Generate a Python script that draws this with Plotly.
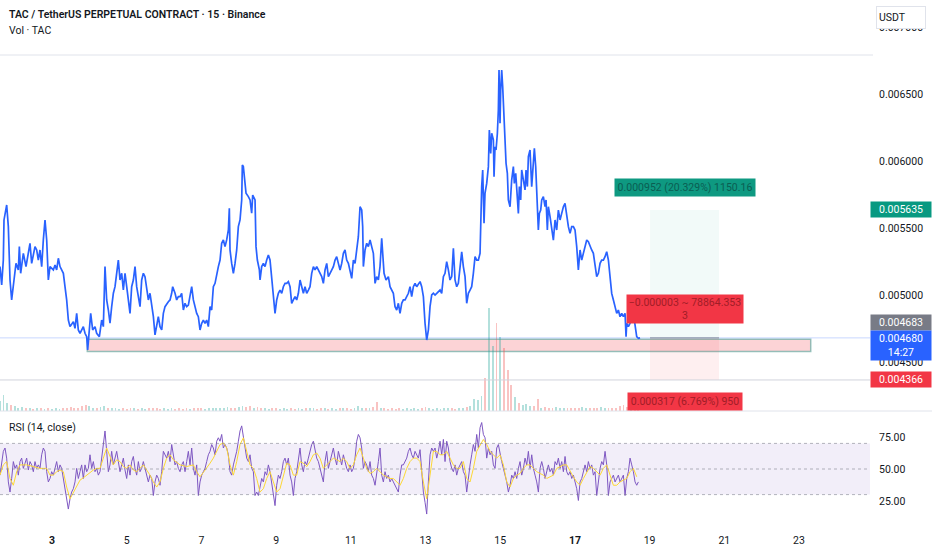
import numpy as np
import plotly.graph_objects as go

# ---- price line (close, day of month) ----
price_day = [
    1.608, 1.653, 1.697, 1.715, 1.787, 1.831, 1.876, 1.920, 1.983, 2.036, 2.099, 2.126, 2.161, 2.233,
    2.304, 2.367, 2.411, 2.456, 2.501, 2.545, 2.590, 2.634, 2.679, 2.724, 2.768, 2.813, 2.858, 2.902,
    2.947, 3.036, 3.081, 3.125, 3.170, 3.215, 3.259, 3.304, 3.348, 3.393, 3.438, 3.482, 3.572, 3.616,
    3.661, 3.705, 3.750, 3.839, 3.884, 3.929, 3.955, 4.000, 4.036, 4.089, 4.152, 4.196, 4.268, 4.330,
    4.375, 4.419, 4.464, 4.509, 4.553, 4.598, 4.643, 4.687, 4.732, 4.776, 4.821, 4.866, 4.910, 4.955,
    5.000, 5.044, 5.089, 5.133, 5.178, 5.223, 5.267, 5.312, 5.357, 5.401, 5.446, 5.490, 5.535, 5.580,
    5.624, 5.669, 5.714, 5.758, 5.803, 5.847, 5.892, 5.937, 5.981, 6.026, 6.115, 6.160, 6.204, 6.231,
    6.294, 6.338, 6.383, 6.428, 6.472, 6.517, 6.561, 6.606, 6.651, 6.695, 6.740, 6.785, 6.829, 6.874,
    6.918, 6.963, 7.008, 7.052, 7.097, 7.142, 7.186, 7.231, 7.275, 7.320, 7.365, 7.409, 7.454, 7.499,
    7.543, 7.588, 7.632, 7.677, 7.722, 7.748, 7.766, 7.811, 7.856, 7.900, 7.945, 7.989, 8.034, 8.079,
    8.096, 8.123, 8.168, 8.195, 8.257, 8.302, 8.346, 8.373, 8.436, 8.462, 8.498, 8.552, 8.570, 8.614,
    8.659, 8.703, 8.748, 8.793, 8.837, 8.882, 8.927, 8.971, 9.016, 9.060, 9.105, 9.150, 9.194, 9.239,
    9.284, 9.328, 9.373, 9.417, 9.462, 9.507, 9.551, 9.596, 9.641, 9.685, 9.730, 9.774, 9.819, 9.864,
    9.908, 9.953, 9.998, 10.042, 10.087, 10.131, 10.176, 10.221, 10.265, 10.310, 10.355, 10.399,
    10.444, 10.488, 10.533, 10.578, 10.622, 10.667, 10.712, 10.756, 10.801, 10.845, 10.890, 10.935,
    10.979, 11.024, 11.069, 11.113, 11.158, 11.202, 11.247, 11.292, 11.318, 11.336, 11.381, 11.426,
    11.470, 11.515, 11.559, 11.604, 11.649, 11.693, 11.738, 11.782, 11.827, 11.854, 11.890, 11.943,
    12.006, 12.050, 12.095, 12.139, 12.184, 12.229, 12.273, 12.318, 12.363, 12.407, 12.452, 12.497,
    12.541, 12.586, 12.630, 12.675, 12.720, 12.764, 12.809, 12.854, 12.898, 12.943, 12.987, 13.032,
    13.077, 13.121, 13.166, 13.211, 13.255, 13.300, 13.344, 13.389,
    13.433, 13.478, 13.522, 13.567, 13.612, 13.656, 13.701, 13.746, 13.790, 13.835, 13.879, 13.924,
    13.969, 14.013, 14.058, 14.103, 14.147, 14.192, 14.236, 14.281, 14.326, 14.370, 14.415, 14.460,
    14.477, 14.504, 14.531, 14.567, 14.593, 14.638, 14.683, 14.709, 14.745, 14.772, 14.817, 14.834,
    14.861, 14.888, 14.924, 14.950, 14.968, 14.995, 15.013, 15.040, 15.066, 15.102, 15.129, 15.156,
    15.191, 15.218, 15.263, 15.307, 15.352, 15.379, 15.415, 15.441, 15.486, 15.513, 15.548, 15.575,
    15.620, 15.664, 15.691, 15.727, 15.754, 15.798, 15.843, 15.888, 15.914, 15.950, 15.977, 15.995,
    16.021, 16.048, 16.084, 16.111, 16.155, 16.200, 16.227, 16.262, 16.289, 16.334, 16.378, 16.423,
    16.468, 16.512, 16.557, 16.602, 16.646, 16.691, 16.735, 16.780, 16.825, 16.869, 16.914, 16.959,
    17.003, 17.048, 17.092, 17.137, 17.182, 17.226, 17.271, 17.316, 17.360, 17.405, 17.449, 17.494,
    17.539, 17.583, 17.628, 17.673, 17.717, 17.762, 17.806, 17.851, 17.896, 17.940, 17.985, 18.030,
    18.074, 18.119, 18.163, 18.208, 18.253, 18.297, 18.342, 18.369, 18.387, 18.431, 18.476, 18.520,
    18.565, 18.610, 18.654, 18.699, 18.744,
]
price = [
    0.005212, 0.005075, 0.005261, 0.005560, 0.005672, 0.005510, 0.005112, 0.004963, 0.005112, 0.005236,
    0.005187, 0.005361, 0.005162, 0.005311, 0.005212, 0.005336, 0.005386, 0.005236, 0.005311, 0.005361,
    0.005336, 0.005261, 0.005336, 0.005212, 0.005411, 0.005560, 0.005411, 0.005112, 0.005212, 0.005187,
    0.005224, 0.005187, 0.005274, 0.005212, 0.005187, 0.005162, 0.005062, 0.004963, 0.004813, 0.004764,
    0.004801, 0.004751, 0.004863, 0.004739, 0.004714, 0.004764, 0.004714, 0.004689, 0.004590, 0.004726,
    0.004863, 0.004739, 0.004764, 0.004714, 0.004689, 0.004813, 0.004764, 0.005212, 0.004963, 0.004888,
    0.004789, 0.004913, 0.005013, 0.005062, 0.005162, 0.005261, 0.005112, 0.005162, 0.005037, 0.005162,
    0.005062, 0.004963, 0.004863, 0.005062, 0.005112, 0.005212, 0.005062, 0.004988, 0.004913, 0.005112,
    0.005162, 0.005137, 0.005062, 0.004963, 0.005013, 0.004938, 0.004838, 0.004702, 0.004789, 0.004838,
    0.004764, 0.004739, 0.004863, 0.004913, 0.004950, 0.004963, 0.005013, 0.005062, 0.005013, 0.004963,
    0.004988, 0.004988, 0.005013, 0.004888, 0.004938, 0.004913, 0.004925, 0.004988, 0.005062, 0.004963,
    0.004913, 0.004863, 0.004838, 0.004739, 0.004789, 0.004813, 0.004789, 0.004813, 0.004764, 0.004913,
    0.004888, 0.005062, 0.005087, 0.005162, 0.005212, 0.005261,
    0.005386, 0.005411, 0.005361, 0.005411, 0.005485, 0.005647, 0.005336, 0.005236, 0.005162, 0.005236,
    0.005336, 0.005510, 0.005560, 0.005709, 0.005970, 0.005958, 0.005858, 0.005759, 0.005734, 0.005709,
    0.005610, 0.005746, 0.005709, 0.005361, 0.005261, 0.005187, 0.005112, 0.005212, 0.005236, 0.005212,
    0.005261, 0.005299, 0.005261, 0.005137, 0.004963, 0.004863, 0.004963, 0.005013, 0.005037, 0.005013,
    0.005062, 0.005087, 0.005087, 0.005100, 0.005062, 0.004938, 0.004963, 0.004988, 0.004963, 0.005013,
    0.005112, 0.005062, 0.005013, 0.005062, 0.005013, 0.005037, 0.005062, 0.005162, 0.005212, 0.005187,
    0.005212, 0.005187, 0.005162, 0.005137, 0.005087, 0.005187, 0.005236, 0.005137, 0.005162, 0.005187,
    0.005212, 0.005261, 0.005286, 0.005236, 0.005187, 0.005236, 0.005311, 0.005336, 0.005261, 0.005236,
    0.005187, 0.005124, 0.005261, 0.005236, 0.005336, 0.005435, 0.005659, 0.005634, 0.005510, 0.005212,
    0.005336, 0.005386, 0.005361, 0.005411, 0.005361, 0.005311, 0.005087, 0.005137, 0.005112, 0.005212,
    0.005423, 0.005261, 0.005162, 0.005112, 0.005137, 0.005062, 0.005037, 0.005013, 0.004913, 0.004888,
    0.004938, 0.004863, 0.004938, 0.004963, 0.004963, 0.004988, 0.005013, 0.005062, 0.004988, 0.005062,
    0.005087, 0.005062, 0.005087, 0.005100, 0.005062, 0.004988, 0.004789, 0.004664, 0.004739, 0.004913,
    0.005000, 0.005013, 0.005000, 0.005013, 0.005025, 0.005037,
    0.005012, 0.005137, 0.005162, 0.005249, 0.005187, 0.005112, 0.005137, 0.005348, 0.005112, 0.005062,
    0.005087, 0.005236, 0.005323, 0.005212, 0.005137, 0.004938, 0.005012, 0.005037, 0.005062, 0.005162,
    0.005286, 0.005261, 0.005261, 0.005311, 0.005609, 0.005809, 0.005933, 0.005535, 0.005759, 0.005833,
    0.005958, 0.006231, 0.006057, 0.006207, 0.006157, 0.005883, 0.006107, 0.006082, 0.006207, 0.006381,
    0.006679, 0.006281, 0.006530, 0.006679, 0.006555, 0.006306, 0.006256, 0.005983, 0.005908, 0.005709,
    0.005659, 0.005858, 0.005958, 0.005833, 0.005908, 0.005759, 0.005609, 0.005809, 0.005709, 0.005933,
    0.005858, 0.005784, 0.005933, 0.005809, 0.006032, 0.006082, 0.005809, 0.006008, 0.006095, 0.005958,
    0.005784, 0.005609, 0.005485, 0.005609, 0.005634, 0.005709, 0.005734, 0.005659, 0.005709, 0.005485,
    0.005659, 0.005585, 0.005510, 0.005410, 0.005560, 0.005485, 0.005634, 0.005560, 0.005609, 0.005659,
    0.005684, 0.005585, 0.005510, 0.005460, 0.005510, 0.005510, 0.005485, 0.005361, 0.005187, 0.005336,
    0.005261, 0.005311, 0.005361, 0.005410, 0.005398, 0.005361, 0.005336, 0.005311, 0.005212, 0.005137,
    0.005162, 0.005236, 0.005261, 0.005261, 0.005286, 0.005323, 0.005261, 0.005112, 0.005012, 0.004963,
    0.004913, 0.004863, 0.004888, 0.004838, 0.004863, 0.004838, 0.004863, 0.004689, 0.004789, 0.004764,
    0.004789, 0.004888, 0.004863, 0.004764, 0.004689, 0.004677, 0.004680,
]

# ---- volume (TAC, millions), one value per 0.1 day from day 1.6 ----
vol_start, vol_step = 1.6, 0.1
volume = [
    14, 24, 12, 9, 7, 5, 6, 4, 5, 3, 4, 5, 3, 4, 3, 4, 3, 5, 4, 6, 4, 5, 7, 9, 8, 5, 4, 6, 8, 5,
    4, 5, 3, 4, 3, 4, 5, 3, 4, 3, 4, 5, 4, 3, 4, 3, 4, 3, 5, 3, 4, 3, 4, 5, 4, 3, 4, 5, 4, 5,
    4, 6, 4, 5, 6, 8, 6, 7, 5, 6, 4, 5, 3, 4, 5, 3, 4, 3, 4, 3, 4, 3, 4, 5, 4, 3, 4, 5, 3, 4,
    3, 4, 5, 4, 3, 5, 7, 5, 4, 5, 6, 13, 5, 4, 3, 4, 3, 4, 3, 4, 3, 4, 3, 4, 6, 4, 3, 4, 3, 4,
    5, 4, 3, 4, 5, 6, 8, 18, 16, 22, 48, 150, 95, 128, 108, 92, 60, 38, 20, 12, 9, 10, 7, 8, 17, 5,
    6, 5, 4, 6, 5, 4, 5, 4, 5, 4, 6, 4, 5, 4, 5, 6, 4, 5, 4, 5, 7, 9, 6, 7, 5, 4,
]

# ---- RSI(14) sampled every 0.044625 day, and its moving average every 0.08925 day ----
rsi_start, rsi_step = 1.608, 0.044625
rsi = [
    45.2, 53.2, 63.8, 66.4, 58.5, 39.9, 32.0, 42.6, 55.8, 50.5, 53.2, 45.2, 55.8, 58.5, 50.5, 54.5,
    58.5, 49.2, 55.8, 53.2, 47.9, 55.8, 50.5, 53.2, 50.5, 61.1, 66.4, 63.8, 47.9, 39.9, 42.6, 47.9,
    45.2, 50.5, 55.8, 47.9, 53.2, 50.5, 42.6, 37.3, 29.3, 18.7, 26.7, 32.0, 34.6, 39.9, 50.5, 42.6,
    47.9, 53.2, 42.6, 53.2, 47.9, 50.5, 61.1, 50.5, 55.8, 47.9, 50.5, 45.2, 47.9, 58.5, 71.7, 79.7,
    63.8, 47.9, 53.2, 63.8, 53.2, 58.5, 63.8, 55.8, 47.9, 53.2, 58.5, 49.2, 42.6, 53.2, 45.2, 55.8,
    59.8, 50.5, 45.2, 55.8, 47.9, 50.5, 55.8, 50.5, 45.2, 39.9, 45.2, 42.6, 29.3, 39.9, 45.2, 42.6,
    37.3, 47.9, 63.8, 61.1, 58.5, 63.8, 55.8, 69.1, 61.1, 53.2, 55.8, 50.5, 47.9, 53.2, 55.8, 47.9,
    55.8, 63.8, 53.2, 66.4, 50.5, 45.2, 53.2, 29.3, 39.9, 45.2, 47.9, 50.5, 55.8, 61.1, 63.8, 69.1,
    66.4, 61.1, 71.7, 74.4, 71.7, 77.0, 66.4, 69.1, 66.4, 61.1, 47.9, 45.2, 53.2, 58.5, 63.8, 71.7,
    79.7, 83.7, 74.4, 66.4, 58.5, 55.8, 61.1, 50.5, 47.9, 29.3, 32.0, 29.3, 37.3, 42.6, 39.9, 47.9,
    45.2, 53.2, 47.9, 39.9, 29.3, 21.4, 37.3, 45.2, 42.6, 47.9, 55.8, 58.5, 53.2, 58.5, 45.2, 39.9,
    29.3, 42.6, 47.9, 58.5, 66.4, 53.2, 47.9, 55.8, 53.2, 58.5, 63.8, 69.1, 71.7, 63.8, 58.5, 55.8,
    50.5,
    45.2, 39.9, 55.8, 63.8, 50.5, 55.8, 61.1, 66.4, 58.5, 53.2, 63.8, 58.5, 53.2, 61.1, 55.8, 50.5,
    47.9, 53.2, 47.9, 50.5, 58.5, 71.7, 77.0, 74.4, 66.4, 50.5, 55.8, 53.2, 47.9, 55.8, 45.2, 42.6,
    37.3, 45.2, 55.8, 66.4, 45.2, 39.9, 47.9, 42.6, 45.2, 39.9, 42.6, 39.9, 37.3, 34.6, 32.0, 45.2,
    53.2, 53.2, 55.8, 58.5, 63.8, 66.4, 61.1, 58.5, 63.8, 61.1, 58.5, 65.1, 45.2, 32.0, 24.0, 14.8,
    39.9, 61.1, 66.4, 63.8, 66.4, 58.5, 63.8, 71.7, 61.1, 73.1, 55.8, 71.7, 66.4, 55.8, 50.5, 47.9,
    53.2, 45.2, 50.5, 53.2, 55.8, 47.9, 45.2, 32.0, 45.2, 53.2, 61.1, 69.1, 63.8, 77.0, 66.4, 82.3,
    86.3, 77.0, 74.4, 58.5, 66.4, 61.1, 63.8, 53.2, 50.5, 66.4, 69.1, 61.1, 55.8, 50.5, 45.2, 39.9,
    32.0, 37.3, 45.2, 42.6, 47.9, 42.6, 50.5, 55.8, 45.2, 50.5, 58.5, 53.2, 63.8, 50.5, 61.1, 50.5,
    45.2, 39.9, 32.0, 50.5, 55.8, 50.5, 42.6, 47.9, 53.2, 47.9, 50.5, 45.2, 55.8, 53.2, 58.5, 50.5,
    55.8, 47.9, 59.8, 47.9, 45.2, 47.9, 42.6, 45.2, 39.9, 34.6, 25.4, 39.9, 42.6, 47.9, 53.2, 47.9,
    55.8, 50.5, 53.2, 45.2, 47.9, 29.3, 42.6, 50.5, 55.8, 53.2, 63.8, 53.2, 29.3, 39.9, 42.6, 45.2,
    39.9, 42.6, 45.2, 39.9, 42.6, 45.2, 29.3, 42.6, 47.9, 58.5, 53.2, 47.9, 39.9, 37.3, 39.9,
]
rsi_ma_step = 0.08925
rsi_ma = [
    45.2, 53.2, 55.8, 42.6, 37.3, 47.9, 53.2, 53.2, 53.2, 52.6, 51.9, 51.1, 50.5, 50.5, 50.5, 45.2,
    45.2, 47.9, 49.2, 47.9, 35.9, 26.7, 32.0, 37.3, 41.3, 43.1, 45.2, 47.3, 49.2, 50.5, 50.5, 58.5,
    66.4, 59.8, 53.2, 57.2, 55.8, 51.9, 50.5, 53.2, 49.2, 47.9, 50.5, 53.2, 49.2, 45.2, 39.9, 35.9,
    39.9, 50.5, 58.5, 61.1, 57.2, 55.3, 53.2, 52.6, 51.9, 52.6, 53.2, 47.9, 43.9, 47.3, 50.5, 54.5,
    58.5, 63.8, 69.1, 70.4, 66.4, 53.2, 45.2, 55.8, 69.1, 74.4, 63.8, 53.2, 50.5, 42.6, 32.0, 34.6,
    42.6, 47.9, 39.9, 32.0, 34.6, 45.2, 54.5, 53.2, 45.2, 45.2, 55.8, 54.5, 51.9, 55.8, 61.1, 62.5,
    58.5,
    50.5, 53.2, 55.8, 58.5, 57.2, 55.8, 58.5, 55.8, 50.5, 53.2, 61.1, 66.4, 58.5, 50.5, 46.5, 47.9,
    50.5, 47.9, 45.2, 43.9, 42.6, 42.6, 39.9, 37.3, 42.6, 50.5, 55.8, 58.5, 58.5, 55.8, 39.9, 26.7,
    45.2, 63.8, 63.8, 61.1, 61.1, 63.8, 58.5, 53.2, 50.5, 50.5, 55.8, 42.6, 39.9, 50.5, 63.8, 69.1,
    73.1, 69.1, 63.8, 61.1, 58.5, 61.1, 53.2, 39.9, 35.9, 42.6, 45.2, 46.5, 50.5, 53.2, 53.2, 50.5,
    47.9, 46.5, 45.2, 42.6, 43.9, 45.2, 50.5, 51.9, 53.2, 53.2, 47.9, 43.9, 39.9, 37.3, 42.6, 47.9,
    51.9, 50.5, 47.9, 45.2, 50.5, 53.2, 45.2, 37.3, 37.3, 39.9, 41.3, 42.6, 47.9, 50.5, 43.9,
]

# ---- position tool & levels ----
entry_price = 0.004680
target_price = 0.005635
stop_price = 0.004366
last_tag_price = 0.004683
zone_low, zone_high = 0.0045784, 0.0046694
zone_day = (3.945, 23.313)
position_day = (19.011, 20.858)
target_label = "0.000952 (20.329%) 1150.16"
mid_label = "\u22120.000003 ~ 78864.353<br>3"
stop_label = "0.000317 (6.769%) 950"
day_ticks = [3, 5, 7, 9, 11, 13, 15, 17, 19, 21, 23]
bold_days = [3, 17]

vol_day = [round(vol_start + vol_step * i, 2) for i in range(len(volume))]
rsi_day = [rsi_start + rsi_step * i for i in range(len(rsi))]
rsi_ma_day = [rsi_start + rsi_ma_step * i for i in range(len(rsi_ma))]

# volume colour: up / down versus the previous bar's close
p_at = np.interp(vol_day, price_day, price)
p_prev = np.interp(np.array(vol_day) - vol_step, price_day, price)
vol_colors = ["rgba(38,166,154,0.35)" if a >= b else "rgba(239,83,80,0.35)" for a, b in zip(p_at, p_prev)]

W, H = 932, 550
X_END = 870 / W
FONT = "Roboto, 'Noto Sans', sans-serif"
INK = "#131722"

fig = go.Figure()
fig.add_trace(go.Bar(x=vol_day, y=volume, marker=dict(color=vol_colors, line=dict(width=0)),
                     width=0.05, xaxis="x", yaxis="y3", hoverinfo="skip"))
fig.add_trace(go.Scatter(x=price_day, y=price, mode="lines", line=dict(color="#2962ff", width=1.7),
                         xaxis="x", yaxis="y"))
fig.add_trace(go.Scatter(x=rsi_day, y=rsi, mode="lines", line=dict(color="#7e57c2", width=1),
                         xaxis="x", yaxis="y2"))
fig.add_trace(go.Scatter(x=rsi_ma_day, y=rsi_ma, mode="lines", line=dict(color="#fdd835", width=1),
                         xaxis="x", yaxis="y2"))

price_top = 0.005 + 295 / 134000
price_bot = 0.005 - 116 / 134000

shapes = [
    # pane separator and faint top line
    dict(type="line", xref="paper", yref="paper", x0=0, x1=1, y0=1 - 411 / H, y1=1 - 411 / H,
         line=dict(color="#e0e3eb", width=1)),
    dict(type="line", xref="paper", yref="paper", x0=0, x1=873 / W, y0=1 - 55 / H, y1=1 - 55 / H,
         line=dict(color="#e0e3eb", width=1)),
    # last price and stop level lines
    dict(type="line", xref="paper", yref="y", x0=0, x1=X_END, y0=entry_price, y1=entry_price,
         line=dict(color="rgba(41,98,255,0.25)", width=1)),
    dict(type="line", xref="paper", yref="y", x0=0, x1=X_END, y0=stop_price, y1=stop_price,
         line=dict(color="#d1d4dc", width=1)),
    # support zone
    dict(type="rect", xref="x", yref="y", x0=zone_day[0], x1=zone_day[1], y0=zone_low, y1=zone_high,
         fillcolor="rgba(242,54,69,0.22)", line=dict(color="rgba(80,160,150,0.6)", width=1.5), layer="below"),
    # long position tool
    dict(type="rect", xref="x", yref="y", x0=position_day[0], x1=position_day[1], y0=entry_price,
         y1=target_price, fillcolor="rgba(8,153,129,0.05)", line=dict(width=0), layer="below"),
    dict(type="rect", xref="x", yref="y", x0=position_day[0], x1=position_day[1], y0=stop_price,
         y1=entry_price, fillcolor="rgba(242,54,69,0.08)", line=dict(width=0), layer="below"),
    dict(type="line", xref="x", yref="y", x0=position_day[0], x1=position_day[1], y0=entry_price,
         y1=entry_price, line=dict(color="rgba(120,123,134,0.8)", width=1)),
    # RSI band
    dict(type="rect", xref="paper", yref="y2", x0=0, x1=X_END, y0=30, y1=70,
         fillcolor="rgba(126,87,194,0.1)", line=dict(width=0), layer="below"),
]
for lvl in (70, 50, 30):
    shapes.append(dict(type="line", xref="paper", yref="y2", x0=0, x1=X_END, y0=lvl, y1=lvl,
                       line=dict(color="rgba(120,123,134,0.55)", width=1, dash="dot")))

mid_day = sum(position_day) / 2
annotations = [
    dict(xref="paper", yref="paper", x=7 / W, y=1 - 15 / H, xanchor="left", yanchor="middle",
         text="TAC / TetherUS PERPETUAL CONTRACT · 15 · Binance", showarrow=False,
         font=dict(size=10.5, color=INK, family=FONT, weight=600)),
    dict(xref="paper", yref="paper", x=7 / W, y=1 - 30 / H, xanchor="left", yanchor="middle",
         text="Vol · TAC", showarrow=False, font=dict(size=10.5, color=INK, family=FONT)),
    dict(xref="paper", yref="paper", x=7 / W, y=1 - 427 / H, xanchor="left", yanchor="middle",
         text="RSI (14, close)", showarrow=False, font=dict(size=10.5, color=INK, family=FONT)),
    dict(xref="paper", yref="paper", x=876 / W, y=1 - 6 / H, xanchor="left", yanchor="top",
         text="USDT", showarrow=False, width=44, height=17, align="left", bgcolor="white",
         bordercolor="#e0e3eb", borderwidth=1, borderpad=2, font=dict(size=10.5, color=INK, family=FONT)),
    # position tool labels
    dict(xref="x", yref="y", x=mid_day, y=target_price, yshift=13, yanchor="bottom", text=target_label,
         showarrow=False, width=138, height=15, bgcolor="#0e9981", borderpad=1,
         font=dict(size=10.5, color="#0b5d52", family=FONT)),
    dict(xref="x", yref="y", x=mid_day, y=entry_price, yshift=14, yanchor="bottom", text=mid_label,
         showarrow=False, width=114, height=26, bgcolor="#f23645", borderpad=1,
         font=dict(size=10.5, color="#a11d27", family=FONT)),
    dict(xref="x", yref="y", x=mid_day, y=stop_price, yshift=-12, yanchor="top", text=stop_label,
         showarrow=False, width=112, height=15, bgcolor="#f23645", borderpad=1,
         font=dict(size=10.5, color="#a11d27", family=FONT)),
]
# price tags on the right scale
tags = [
    (target_price, f"{target_price:.6f}", "#089981", 0, "middle"),
    (last_tag_price, f"{last_tag_price:.6f}", "#787b86", 15, "middle"),
    (entry_price, f"{entry_price:.6f}<br>14:27", "#2962ff", 8, "top"),
    (stop_price, f"{stop_price:.6f}", "#f23645", 0, "middle"),
]
for val, txt, col, shift, anchor in tags:
    annotations.append(dict(xref="paper", yref="y", x=870 / W, y=val, yshift=shift, xanchor="left",
                            yanchor=anchor, text=txt, showarrow=False, bgcolor=col, width=58,
                            align="center", borderpad=1, font=dict(size=10.5, color="white", family=FONT)))

fig.update_layout(
    width=W, height=H, margin=dict(l=0, r=0, t=0, b=0),
    paper_bgcolor="white", plot_bgcolor="white", showlegend=False,
    font=dict(family=FONT, color=INK, size=10.5),
    bargap=0, shapes=shapes, annotations=annotations,
    xaxis=dict(domain=[0, X_END], range=[1.608, 24.90], anchor="y2", showgrid=False, zeroline=False,
               showline=False, ticks="", tickvals=day_ticks,
               ticktext=[f"<b>{d}</b>" if d in bold_days else str(d) for d in day_ticks],
               tickfont=dict(size=10.5, color=INK), ticklabelstandoff=6),
    yaxis=dict(domain=[1 - 411 / H, 1], range=[price_bot, price_top], anchor="x", side="right",
               showgrid=False, zeroline=False, showline=False, ticks="", tick0=0, dtick=0.0005,
               tickformat=".6f", tickfont=dict(size=10.5, color=INK), ticklabelstandoff=8),
    yaxis2=dict(domain=[1 - 526 / H, 1 - 412 / H], range=[50 - 57 / 1.28, 50 + 57 / 1.28],
                anchor="x", side="right", showgrid=False, zeroline=False, showline=False, ticks="",
                tickvals=[25, 50, 75], ticktext=["25.00", "50.00", "75.00"],
                tickfont=dict(size=10.5, color=INK), ticklabelstandoff=8),
    yaxis3=dict(overlaying="y", range=[0, 598], visible=False, anchor="x"),
)

# the page's default body margin would shift the chart, drop it
fig.write_html("out.html", config={"displayModeBar": False},
               post_script="document.body.style.margin='0';")
